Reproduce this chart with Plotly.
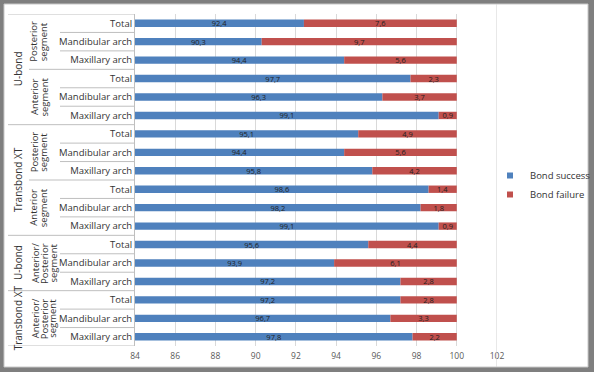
import plotly.graph_objects as go

# ---- data ----
products = ["U-bond"] * 6 + ["Transbond XT"] * 6 + ["U-bond"] * 3 + ["Transbond XT"] * 3
segments = (["Posterior segment"] * 3 + ["Anterior segment"] * 3 +
            ["Posterior segment"] * 3 + ["Anterior segment"] * 3 +
            ["Anterior/ Posterior segment"] * 3 + ["Anterior/ Posterior segment"] * 3)
arches = ["Total", "Mandibular arch", "Maxillary arch"] * 6
bond_success = [92.4, 90.3, 94.4, 97.7, 96.3, 99.1,
                95.1, 94.4, 95.8, 98.6, 98.2, 99.1,
                95.6, 93.9, 97.2, 97.2, 96.7, 97.8]
bond_failure = [7.6, 9.7, 5.6, 2.3, 3.7, 0.9,
                4.9, 5.6, 4.2, 1.4, 1.8, 0.9,
                4.4, 6.1, 2.8, 2.8, 3.3, 2.2]
x_ticks = [84, 86, 88, 90, 92, 94, 96, 98, 100, 102]

AXIS_MIN, AXIS_MAX = 84, 102
BLUE, RED = "#4F81BD", "#C0504D"
W, H = 594, 372
ML, MR, MT, MB = 135, 97, 14, 26
PW, PH = W - ML - MR, H - MT - MB


def px2x(px):
    return (px - ML) / PW


def py2y(py):
    return (H - MB - py) / PH


def fmt(v):
    return f"{v:.1f}".replace(".", ",")


n = len(arches)
idx = list(range(n))

fig = go.Figure()
fig.add_trace(go.Bar(
    y=idx, x=[s - AXIS_MIN for s in bond_success], base=[AXIS_MIN] * n,
    orientation="h", marker=dict(color=BLUE, line=dict(width=0)),
    text=[fmt(v) for v in bond_success], textposition="inside",
    insidetextanchor="middle", constraintext="none",
    textfont=dict(size=7.5, color="#1f1f1f", family="Open Sans"),
    name="Bond success", showlegend=False, hoverinfo="skip"))
fig.add_trace(go.Bar(
    y=idx, x=bond_failure, base=bond_success,
    orientation="h", marker=dict(color=RED, line=dict(width=0)),
    text=[fmt(v) for v in bond_failure], textposition="inside",
    insidetextanchor="middle", constraintext="none",
    textfont=dict(size=7.5, color="#1f1f1f", family="Open Sans"),
    name="Bond failure", showlegend=False, hoverinfo="skip"))
# legend entries with small square symbols
for name, col in [("Bond success", BLUE), ("Bond failure", RED)]:
    fig.add_trace(go.Scatter(x=[None], y=[None], mode="markers", name=name,
                             marker=dict(symbol="square", size=6, color=col)))

shapes = []
# white inner panel on grey frame
shapes.append(dict(type="rect", xref="paper", yref="paper", layer="below",
                   x0=px2x(4), x1=px2x(588), y0=py2y(367), y1=py2y(4),
                   fillcolor="white", line=dict(color="#c8c8c8", width=1)))
# divider line between plot and legend
shapes.append(dict(type="line", xref="x", yref="paper", x0=AXIS_MAX, x1=AXIS_MAX,
                   y0=py2y(367), y1=py2y(4), line=dict(color="#d0d0d0", width=1)))

LINE_COL = "#bfbfbf"
x_prod, x_seg, x_arch = px2x(8), px2x(29), px2x(60)
for yy in (-0.5, n - 0.5):
    shapes.append(dict(type="line", xref="paper", yref="y", x0=x_prod, x1=0,
                       y0=yy, y1=yy, line=dict(color=LINE_COL, width=1)))
for i in range(n - 1):
    if products[i] != products[i + 1]:
        x0 = x_prod
    elif segments[i] != segments[i + 1]:
        x0 = x_seg
    else:
        x0 = x_arch
    shapes.append(dict(type="line", xref="paper", yref="y", x0=x0, x1=0,
                       y0=i + 0.5, y1=i + 0.5, line=dict(color=LINE_COL, width=1)))


def runs(keys):
    out, start = [], 0
    for i in range(1, n + 1):
        if i == n or keys[i] != keys[start]:
            out.append((start, i - 1))
            start = i
    return out


annotations = []
for a, b in runs(products):
    annotations.append(dict(text=products[a], xref="paper", yref="y",
                            x=px2x(18), y=(a + b) / 2, textangle=-90,
                            showarrow=False, xanchor="center", yanchor="middle",
                            font=dict(size=10, color="#333333", family="Open Sans")))

SEG_LINE_X = {2: [34, 43.5], 3: [35, 44, 52.5]}
seg_keys = [p + "|" + s for p, s in zip(products, segments)]
for a, b in runs(seg_keys):
    words = segments[a].split(" ")
    for wx, word in zip(SEG_LINE_X[len(words)], words):
        annotations.append(dict(text=word, xref="paper", yref="y",
                                x=px2x(wx), y=(a + b) / 2,
                                textangle=-90, showarrow=False,
                                xanchor="center", yanchor="middle",
                                font=dict(size=9.5, color="#333333", family="Open Sans")))

fig.update_layout(
    width=W, height=H,
    margin=dict(l=ML, r=MR, t=MT, b=MB, pad=0, autoexpand=False),
    paper_bgcolor="#7f7f7f", plot_bgcolor="rgba(0,0,0,0)",
    barmode="overlay", bargap=0.6,
    font=dict(family="Open Sans", color="#333333"),
    shapes=shapes, annotations=annotations,
    legend=dict(x=px2x(490), xanchor="left", y=py2y(185), yanchor="middle",
                font=dict(size=9.5, color="#333333"), bgcolor="rgba(0,0,0,0)",
                itemwidth=30, tracegroupgap=0),
    xaxis=dict(range=[AXIS_MIN, AXIS_MAX], tickvals=x_ticks,
               showgrid=True, gridcolor="#d9d9d9", gridwidth=1,
               zeroline=False, showline=False, ticks="", ticklabelstandoff=3,
               tickfont=dict(size=8.5, color="#595959")),
    yaxis=dict(range=[n - 0.5, -0.5], tickvals=idx, ticktext=arches,
               showgrid=False, zeroline=False, showline=True,
               linecolor=LINE_COL, linewidth=1, ticks="",
               tickfont=dict(size=9.5, color="#333333")),
)

fig.write_html("out.html")
